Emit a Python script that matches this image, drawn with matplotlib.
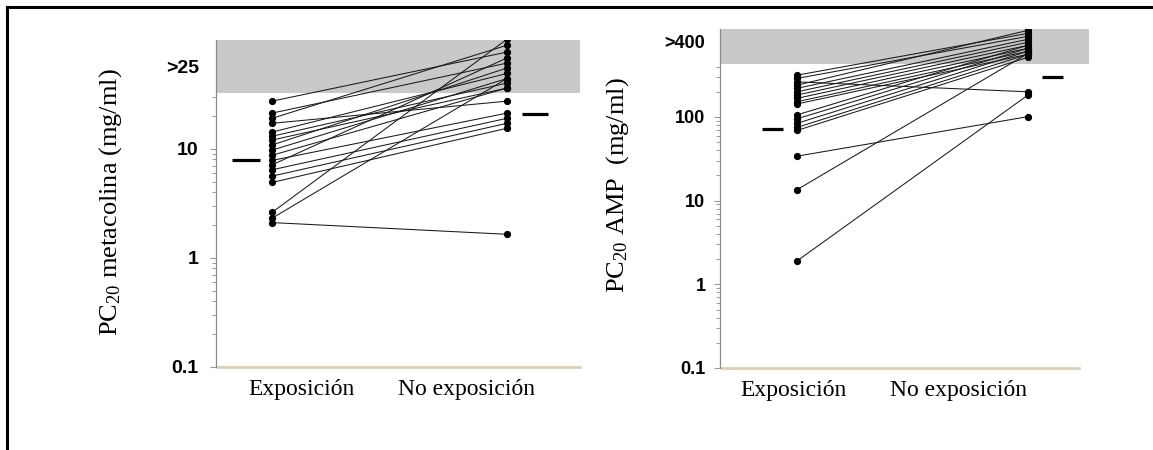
import matplotlib
matplotlib.use("Agg")
import matplotlib.pyplot as plt
from matplotlib.lines import Line2D
import numpy as np

# ---------------- data ----------------
categories = ["Exposición", "No exposición"]

# Left panel: PC20 metacolina (paired values)
meta_exp = [27.3, 21.2, 19.0, 17.1, 14.2, 13.0, 12.0, 10.8, 9.7, 8.7,
            7.8, 7.1, 6.4, 5.6, 4.9, 2.6, 2.3, 2.1]
meta_noexp = [77, 61, 89, 27.3, 49, 40, 36, 55, 44, 36,
              21.2, 68, 19.0, 17.1, 15.4, 101, 44, 1.64]
meta_means = [7.8, 21.0]
meta_band_low = 32.4
meta_ticks = [0.1, 1, 10]
meta_ticklabels = ["0.1", "1", "10"]
meta_top_label = ">25"
meta_top_value = 54.7
meta_minor = [0.2, 0.3, 0.4, 0.5, 0.6, 0.7, 0.8, 0.9,
              2, 3, 4, 5, 6, 7, 8, 9, 20, 30]

# Right panel: PC20 AMP (paired values)
amp_exp = [316, 289, 263, 240, 220, 200, 183, 167, 152, 143,
           106, 95, 84, 75, 69, 34, 13.5, 1.9]
amp_noexp = [1000, 921, 200, 1086, 849, 782, 720, 663, 611, 562,
             720, 663, 611, 562, 518, 101, 575, 183]
amp_means = [72, 302]
amp_band_low = 430
amp_ticks = [0.1, 1, 10, 100]
amp_ticklabels = ["0.1", "1", "10", "100"]
amp_top_label = ">400"
amp_top_value = 766
amp_minor = [0.2, 0.3, 0.4, 0.5, 0.6, 0.7, 0.8, 0.9,
             2, 3, 4, 5, 6, 7, 8, 9,
             20, 30, 40, 50, 60, 70, 80, 90, 200, 300, 400]

ylabel_left = "PC$_{\\mathrm{20}}$ metacolina (mg/ml)"
ylabel_right = "PC$_{\\mathrm{20}}$ AMP  (mg/ml)"

# ---------------- style ----------------
plt.rcParams["mathtext.fontset"] = "custom"
plt.rcParams["mathtext.rm"] = "Liberation Serif"
plt.rcParams["mathtext.it"] = "Liberation Serif:italic"

W, H = 1153, 450
fig = plt.figure(figsize=(W / 100, H / 100), dpi=100)
fig.patch.set_facecolor("white")

GRAY_BAND = "#c9c9c9"
TICK_COL = "#9a9a9a"
AXIS_BEIGE = "#d8d0b4"
SERIF = "Liberation Serif"
SANS = "Liberation Sans"


def px_axes(l, t, r, b):
    return fig.add_axes([l / W, 1 - b / H, (r - l) / W, (b - t) / H])


def make_panel(ax, exp, noexp, means, band_low, ylim, ticks, ticklabels,
               minor, top_label, top_value, xlim, mean_spans, label_x,
               bottom_frac, tick_fs, label_pad):
    ax.set_yscale("log")
    ax.set_ylim(*ylim)
    ax.set_xlim(*xlim)
    ax.set_facecolor("none")
    ax.axhspan(band_low, ylim[1], color=GRAY_BAND, lw=0, zorder=0)

    xs = np.arange(len(categories))
    for a, b in zip(exp, noexp):
        ax.plot(xs, [a, b], color="#1a1a1a", lw=0.75, zorder=2)
    ax.plot(np.zeros(len(exp)), exp, "o", color="black", ms=4.2, zorder=3)
    ax.plot(np.ones(len(noexp)), noexp, "o", color="black", ms=4.2, zorder=3)

    for m, (x0, x1) in zip(means, mean_spans):
        ax.plot([x0, x1], [m, m], color="black", lw=2.3,
                solid_capstyle="butt", zorder=3)

    for s in ["top", "right", "bottom"]:
        ax.spines[s].set_visible(False)
    ax.spines["left"].set_color("#8a8a8a")
    ax.spines["left"].set_linewidth(0.9)
    ax.axhline(ylim[0], xmin=0.005, xmax=bottom_frac, color=AXIS_BEIGE,
               lw=2.0, zorder=1, clip_on=False)

    ax.set_xticks([])
    ax.set_yticks(ticks)
    ax.set_yticklabels(ticklabels, fontfamily=SANS, fontweight="bold",
                       fontsize=tick_fs)
    ax.set_yticks(minor, minor=True)
    ax.yaxis.set_minor_formatter(plt.NullFormatter())
    ax.tick_params(axis="y", which="major", length=4.5, width=0.8,
                   color=TICK_COL, pad=label_pad)
    ax.tick_params(axis="y", which="minor", length=3.0, width=0.7,
                   color=TICK_COL)
    ax.text(-0.0, top_value, top_label, transform=ax.get_yaxis_transform(),
            ha="right", va="center", fontfamily=SANS, fontweight="bold",
            fontsize=tick_fs)
    # move the custom label to the same place as tick labels
    for t in ax.texts[-1:]:
        from matplotlib.transforms import offset_copy
        t.set_transform(offset_copy(ax.get_yaxis_transform(), fig=fig,
                                    x=-(4.5 + label_pad), units="points"))

    for xl, name in zip(label_x, categories):
        ax.annotate(name, xy=(xl, 0), xycoords=("data", "axes fraction"),
                    xytext=(0, -16.5), textcoords="offset points",
                    ha="center", va="center", fontfamily=SERIF, fontsize=17)


# Left panel
axL = px_axes(216, 40, 580, 366.7)
make_panel(axL, meta_exp, meta_noexp, meta_means, meta_band_low,
           (0.1, 99.4), meta_ticks, meta_ticklabels, meta_minor,
           meta_top_label, meta_top_value,
           xlim=(-0.238, 1.311),
           mean_spans=[(-0.170, -0.051), (1.064, 1.174)],
           label_x=[0.126, 0.830], bottom_frac=1.0, tick_fs=14,
           label_pad=8.0)

# Right panel
axR = px_axes(720, 29.3, 1089, 368)
make_panel(axR, amp_exp, amp_noexp, amp_means, amp_band_low,
           (0.1, 1117), amp_ticks, amp_ticklabels, amp_minor,
           amp_top_label, amp_top_value,
           xlim=(-0.333, 1.264),
           mean_spans=[(-0.152, -0.061), (1.061, 1.152)],
           label_x=[-0.017, 0.70], bottom_frac=(1079 - 720) / (1089 - 720),
           tick_fs=13, label_pad=6.0)

# y-axis titles
fig.text(111 / W, 1 - 202 / H, ylabel_left, rotation=90, ha="center",
         va="center", fontfamily=SERIF, fontsize=19)
fig.text(618 / W, 1 - 185 / H, ylabel_right, rotation=90, ha="center",
         va="center", fontfamily=SERIF, fontsize=19)

# outer frame (top and left)
fig.add_artist(Line2D([7.3 / W, 1.0], [1 - 7.3 / H, 1 - 7.3 / H],
                      transform=fig.transFigure, color="black", lw=2.2,
                      solid_capstyle="projecting"))
fig.add_artist(Line2D([7.3 / W, 7.3 / W], [1 - 7.3 / H, 0.0],
                      transform=fig.transFigure, color="black", lw=2.2,
                      solid_capstyle="projecting"))

fig.savefig("out.png", dpi=100)
